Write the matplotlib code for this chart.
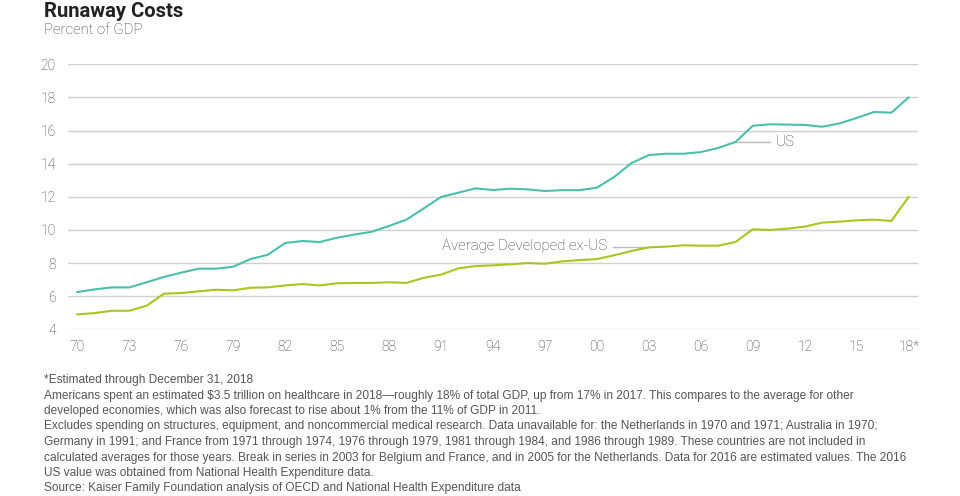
import matplotlib
matplotlib.use("Agg")
import matplotlib.pyplot as plt

# health spending, percent of GDP
years = list(range(1970, 2019))
us_pct = [6.25, 6.41, 6.53, 6.53, 6.84, 7.16, 7.42, 7.66, 7.66, 7.78,
          8.24, 8.50, 9.21, 9.33, 9.27, 9.53, 9.72, 9.89, 10.24, 10.62,
          11.30, 11.99, 12.25, 12.51, 12.41, 12.49, 12.45, 12.35, 12.40, 12.40,
          12.55, 13.20, 14.04, 14.52, 14.60, 14.60, 14.70, 14.95, 15.31, 16.29,
          16.38, 16.36, 16.34, 16.23, 16.43, 16.76, 17.12, 17.08, 18.00]
avg_pct = [4.90, 4.98, 5.12, 5.12, 5.42, 6.15, 6.19, 6.29, 6.39, 6.35,
           6.51, 6.53, 6.65, 6.73, 6.65, 6.78, 6.80, 6.80, 6.84, 6.80,
           7.11, 7.30, 7.68, 7.82, 7.86, 7.92, 8.00, 7.96, 8.10, 8.18,
           8.24, 8.47, 8.73, 8.95, 8.99, 9.07, 9.05, 9.05, 9.27, 10.04,
           10.00, 10.08, 10.20, 10.44, 10.50, 10.58, 10.62, 10.54, 12.00]
tick_years = list(range(1970, 2019, 3))
tick_labels = ["70", "73", "76", "79", "82", "85", "88", "91", "94", "97",
               "00", "03", "06", "09", "12", "15", "18*"]
y_ticks = list(range(4, 21, 2))

notes = [
    "*Estimated through December 31, 2018",
    "Americans spent an estimated $3.5 trillion on healthcare in 2018\u2014roughly 18% of total GDP, up from 17% in 2017. This compares to the average for other",
    "developed economies, which was also forecast to rise about 1% from the 11% of GDP in 2011.",
    "Excludes spending on structures, equipment, and noncommercial medical research. Data unavailable for: the Netherlands in 1970 and 1971; Australia in 1970;",
    "Germany in 1991; and France from 1971 through 1974, 1976 through 1979, 1981 through 1984, and 1986 through 1989. These countries are not included in",
    "calculated averages for those years. Break in series in 2003 for Belgium and France, and in 2005 for the Netherlands. Data for 2016 are estimated values. The 2016",
    "US value was obtained from National Health Expenditure data.",
    "Source: Kaiser Family Foundation analysis of OECD and National Health Expenditure data",
]

us_color = "#4bbfac"
avg_color = "#abc422"
grid_color = "#d0d0d0"
text_color = "#3a3a3a"

W, H = 960, 496
fig = plt.figure(figsize=(W / 100, H / 100), dpi=100)
fig.patch.set_facecolor("white")

ax_l, ax_r = 68.3, 917.7
ax_t, ax_b = 64.3, 329.3
ax = fig.add_axes([ax_l / W, 1 - ax_b / H, (ax_r - ax_l) / W, (ax_b - ax_t) / H])
ax.set_xlim(1969.48, 2018.52)
ax.set_ylim(4, 20)

for v in y_ticks:
    ax.axhline(v, color=grid_color, lw=1, zorder=1)

ax.plot(years, us_pct, color=us_color, lw=1.5, zorder=3, clip_on=False)
ax.plot(years, avg_pct, color=avg_color, lw=1.5, zorder=3, clip_on=False)

# series labels with leader lines
ax.plot([2008, 2010.0], [us_pct[38], us_pct[38]], color="#bbbbbb", lw=1, zorder=2)
ax.text(2010.3, us_pct[38], "US", ha="left", va="center", fontsize=10.8,
        color=text_color, family="Roboto", fontweight="light")
ax.plot([2000.9, 2003], [avg_pct[33], avg_pct[33]], color="#bbbbbb", lw=1, zorder=2)
ax.text(2000.6, avg_pct[33] + 0.05, "Average Developed ex-US", ha="right", va="center",
        fontsize=10.8, color=text_color, family="Roboto", fontweight="light")

ax.set_xticks(tick_years)
ax.set_xticklabels(tick_labels)
ax.set_yticks(y_ticks)
ax.set_yticklabels([str(v) for v in y_ticks])
ax.tick_params(length=0, labelsize=10, labelcolor=text_color)
ax.tick_params(axis="x", pad=8)
ax.tick_params(axis="y", pad=9)
for lab in ax.get_xticklabels() + ax.get_yticklabels():
    lab.set_family("Roboto")
    lab.set_fontweight("light")
for s in ax.spines.values():
    s.set_visible(False)

fig.text(44 / W, 1 - 2 / H, "Runaway Costs", ha="left", va="top", fontsize=14.6,
         fontweight="bold", family="Roboto", color="#222222")
fig.text(44 / W, 1 - 23 / H, "Percent of GDP", ha="left", va="top", fontsize=10.7,
         fontweight="light", family="Roboto", color=text_color)

y0 = 380
for i, line in enumerate(notes):
    fig.text(44 / W, 1 - (y0 + i * 15.5) / H, line, ha="left", va="center",
             fontsize=8.6, family="Liberation Sans", color="#555555")

fig.savefig("out.png", dpi=100, facecolor="white")
